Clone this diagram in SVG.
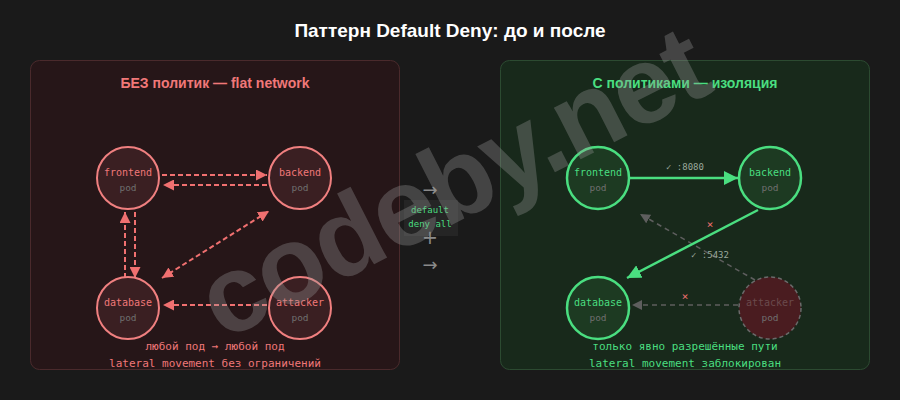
<svg xmlns="http://www.w3.org/2000/svg" width="900" height="400" viewBox="0 0 900 400">
<defs>
<style>
.title{font-family:"Liberation Sans",Arial,sans-serif;font-weight:bold;font-size:19px;fill:#ffffff;text-anchor:middle}
.ptitle{font-family:"Liberation Sans",Arial,sans-serif;font-weight:bold;font-size:14px;text-anchor:middle}
.mono{font-family:"DejaVu Sans Mono",monospace;text-anchor:middle}
.nlabel{font-size:10px}
.pod{font-size:9.5px;fill:#6f6f6f}
.foot{font-size:11px}
.red{fill:#f07878}
.green{fill:#4ade80}
.rnode{fill:#3a1f22;stroke:#f08080;stroke-width:2}
.gnode{fill:#1d3a22;stroke:#4ade80;stroke-width:2.5}
.anode{fill:#4a1c20;stroke:#6a6a6a;stroke-width:1.5;stroke-dasharray:4 3}
.rline{stroke:#f07070;stroke-width:2;stroke-dasharray:5 3;fill:none}
.gline{stroke:#4ade80;stroke-width:2.5;fill:none}
.dline{stroke:#5e5e5e;stroke-width:1.5;stroke-dasharray:5 4;fill:none}
.sym{font-family:"DejaVu Sans",sans-serif;text-anchor:middle;fill:#8a8a8a}
</style>
<marker id="ar" viewBox="0 0 10 10" refX="10" refY="5" markerWidth="11" markerHeight="11" markerUnits="userSpaceOnUse" orient="auto-start-reverse"><path d="M0,0 L10,5 L0,10 z" fill="#f07070"/></marker>
<marker id="ag" viewBox="0 0 10 10" refX="10" refY="5" markerWidth="14" markerHeight="14" markerUnits="userSpaceOnUse" orient="auto"><path d="M0,0 L10,5 L0,10 z" fill="#4ade80"/></marker>
<marker id="ad" viewBox="0 0 10 10" refX="10" refY="5" markerWidth="10" markerHeight="10" markerUnits="userSpaceOnUse" orient="auto"><path d="M0,0 L10,5 L0,10 z" fill="#5e5e5e"/></marker>
</defs>
<rect x="0" y="0" width="900" height="400" fill="#1a1a1a"/>
<text class="title" x="450" y="37">Паттерн Default Deny: до и после</text>

<g id="panel-left">
<rect x="30.5" y="60.5" width="369" height="309" rx="9" fill="#261618" stroke="#4a2a2c" stroke-width="1"/>
<text class="ptitle red" x="215" y="88">БЕЗ политик — flat network</text>
<text class="mono foot red" x="215" y="350">любой под → любой под</text>
<text class="mono foot red" x="215" y="367">lateral movement без ограничений</text>
</g>
<g id="panel-right">
<rect x="500.5" y="60.5" width="369" height="309" rx="9" fill="#18291b" stroke="#2c4a31" stroke-width="1"/>
<text class="ptitle green" x="685" y="88">С политиками — изоляция</text>
<text class="mono foot green" x="685" y="350">только явно разрешённые пути</text>
<text class="mono foot green" x="685" y="367">lateral movement заблокирован</text>
</g>

<g id="middle">
<rect x="404" y="200" width="54" height="36" fill="#ffffff" opacity="0.05"/>
<text class="sym" x="430" y="196" font-size="18">→</text>
<text class="mono green" x="430" y="213" font-size="9">default</text>
<text class="mono green" x="430" y="227" font-size="9">deny all</text>
<text class="sym" x="430" y="244" font-size="19">+</text>
<text class="sym" x="430" y="271" font-size="18">→</text>
</g>

<g id="connectors">
<line class="rline" x1="162" y1="175" x2="267" y2="175" marker-end="url(#ar)"/>
<line class="rline" x1="267" y1="185" x2="163" y2="185" marker-end="url(#ar)"/>
<line class="rline" x1="135" y1="212" x2="135" y2="278" marker-end="url(#ar)"/>
<line class="rline" x1="125" y1="278" x2="125" y2="212" marker-end="url(#ar)"/>
<line class="rline" x1="162" y1="278" x2="269" y2="211" marker-start="url(#ar)" marker-end="url(#ar)"/>
<line class="rline" x1="267" y1="305" x2="163" y2="305" marker-end="url(#ar)"/>

<line class="dline" x1="755" y1="280" x2="640" y2="214" marker-end="url(#ad)"/>
<line class="dline" x1="738" y1="305" x2="632" y2="305" marker-end="url(#ad)"/>
<line class="gline" x1="630" y1="178" x2="738" y2="178" marker-end="url(#ag)"/>
<line class="gline" x1="758" y1="210" x2="627" y2="278" marker-end="url(#ag)"/>
<text class="mono" x="685" y="170" font-size="9" fill="#9aa89c">✓ :8080</text>
<text class="mono" x="710" y="258" font-size="9" fill="#9aa89c">✓ :5432</text>
<text class="mono" x="710" y="228" font-size="11" fill="#f07070">×</text>
<text class="mono" x="685" y="300" font-size="11" fill="#f07070">×</text>
</g>

<g id="l-frontend"><circle class="rnode" cx="128" cy="178" r="31"/><text class="mono nlabel red" x="128" y="176">frontend</text><text class="mono pod" x="128" y="191">pod</text></g>
<g id="l-backend"><circle class="rnode" cx="300" cy="178" r="31"/><text class="mono nlabel red" x="300" y="176">backend</text><text class="mono pod" x="300" y="191">pod</text></g>
<g id="l-database"><circle class="rnode" cx="128" cy="308" r="31"/><text class="mono nlabel red" x="128" y="306">database</text><text class="mono pod" x="128" y="321">pod</text></g>
<g id="l-attacker"><circle class="rnode" cx="300" cy="308" r="31"/><text class="mono nlabel red" x="300" y="306">attacker</text><text class="mono pod" x="300" y="321">pod</text></g>

<g id="r-frontend"><circle class="gnode" cx="598" cy="178" r="31"/><text class="mono nlabel green" x="598" y="176">frontend</text><text class="mono pod" x="598" y="191">pod</text></g>
<g id="r-backend"><circle class="gnode" cx="770" cy="178" r="31"/><text class="mono nlabel green" x="770" y="176">backend</text><text class="mono pod" x="770" y="191">pod</text></g>
<g id="r-database"><circle class="gnode" cx="598" cy="308" r="31"/><text class="mono nlabel green" x="598" y="306">database</text><text class="mono pod" x="598" y="321">pod</text></g>
<g id="r-attacker"><circle class="anode" cx="770" cy="308" r="31"/><text class="mono nlabel" x="770" y="306" fill="#6a4a4c">attacker</text><text class="mono pod" x="770" y="321" fill="#6a4a4c">pod</text></g>

<text x="0" y="0" transform="translate(456,190) rotate(-27)" font-family="'Liberation Sans',Arial,sans-serif" font-weight="bold" font-size="110" letter-spacing="-2" fill="#9a9a9a" opacity="0.33" text-anchor="middle" dominant-baseline="middle">codeby.net</text>
</svg>
